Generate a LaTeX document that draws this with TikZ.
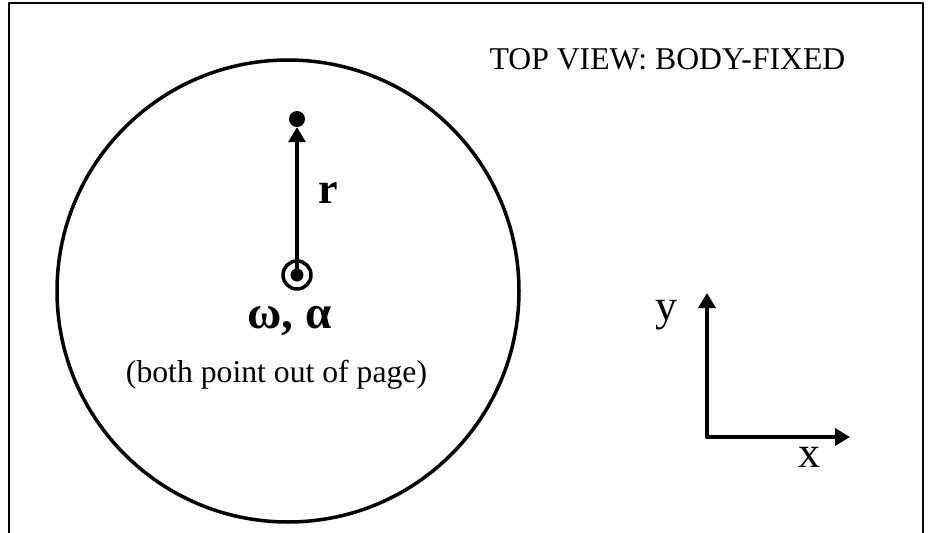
\documentclass[tikz,border=0pt]{standalone}
\usepackage{fontspec}
\setmainfont{Liberation Serif}
\usetikzlibrary{arrows.meta}
\begin{document}
\begin{tikzpicture}[x=1pt, y=-1pt, line cap=round, line join=round,
    vec/.style={line width=3.5pt, -{Triangle[length=15pt,width=17pt]}},
    txt/.style={inner sep=0pt, anchor=base, font=\fontsize{31.7}{38}\selectfont},
    big/.style={inner sep=0pt, anchor=base, font=\fontsize{44}{52}\selectfont}]
    \useasboundingbox (0,0) rectangle (930,533);
    \draw[line width=1.8pt, line cap=butt] (9,533) -- (9,3) -- (923,3) -- (923,533);
    \draw[line width=3.5pt] (288,291) circle (231);
    % body-fixed point and rotation axis
    \node[circle, fill, inner sep=0pt, minimum size=13pt] (o) at (297,275) {};
    \node[circle, draw, line width=3.5pt, inner sep=0pt, minimum size=28pt] (ring) at (297,275) {};
    \node[circle, fill, inner sep=0pt, minimum size=16pt] (p) at (297,119) {};
    \draw[vec] (o.center) -- (p.south);
    \node[big, font=\fontsize{44}{52}\selectfont\bfseries] (rlbl) at (328,203) {r};
    \node[big, font=\fontsize{47}{56}\selectfont\bfseries] (wlbl) at (289.5,328) {ω, α};
    \node[txt] (note) at (276.5,382) {(both point out of page)};
    \node[txt] (title) at (667.5,69) {TOP VIEW: BODY-FIXED};
    % axes
    \coordinate (O) at (707,437);
    \coordinate (ytip) at (707,293);
    \coordinate (xtip) at (850,437);
    \draw[vec] (O) -- (ytip);
    \draw[vec] (O) -- (xtip);
    \node[big] (ylbl) at (666,320) {y};
    \node[big] (xlbl) at (809.5,467) {x};
\end{tikzpicture}
\end{document}
